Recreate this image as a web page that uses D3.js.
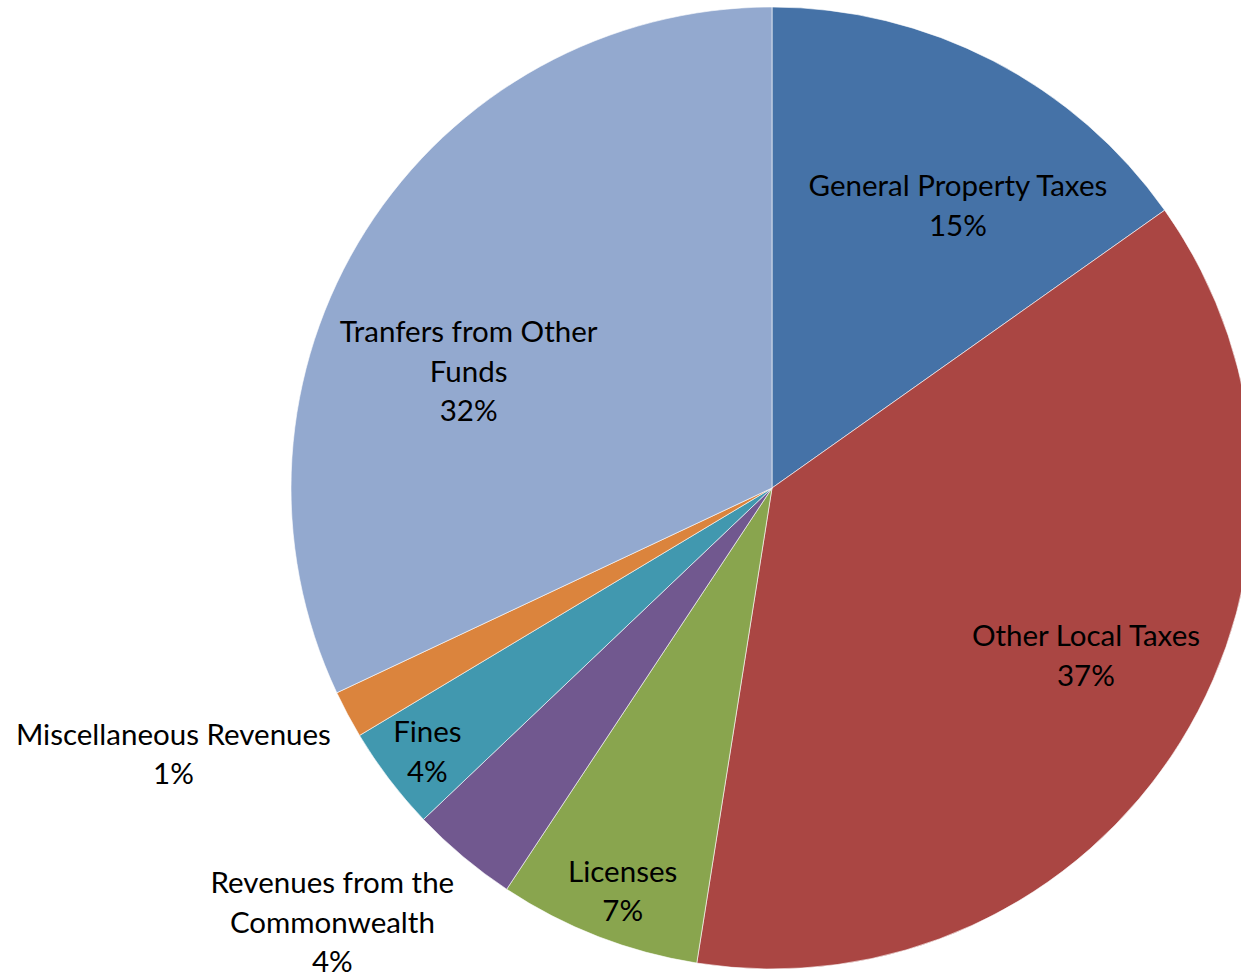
<!DOCTYPE html>
<html>
<head>
<meta charset="utf-8">
<script src="https://cdn.jsdelivr.net/npm/d3@7"></script>
<style>
  html, body { margin: 0; padding: 0; background: #ffffff; }
  svg { display: block; }
  text { font-family: "Lato", "Open Sans", sans-serif; fill: #000; }
</style>
</head>
<body>
<svg id="chart" width="1241" height="977"></svg>
<script>
// Data (percent shares)
const categories = [
  "General Property Taxes",
  "Other Local Taxes",
  "Licenses",
  "Revenues from the Commonwealth",
  "Fines",
  "Miscellaneous Revenues",
  "Tranfers from Other Funds"
];
const values = [15.2, 37.3, 6.8, 3.6, 3.5, 1.6, 32.0];
const percentLabels = ["15%", "37%", "7%", "4%", "4%", "1%", "32%"];
const labelLines = [
  ["General Property Taxes"],
  ["Other Local Taxes"],
  ["Licenses"],
  ["Revenues from the", "Commonwealth"],
  ["Fines"],
  ["Miscellaneous Revenues"],
  ["Tranfers from Other", "Funds"]
];
const colors = ["#4572A7", "#AA4643", "#89A54E", "#71588F", "#4198AF", "#DB843D", "#93A9CF"];

// Layout
const W = 1241, H = 977;
const cx = 772, cy = 488, R = 481;
// label placement: radius from center and angle shift (radians) relative to slice mid-angle
const labelRadius = [338, 356, 430, 618, 434, 655, 325];
const labelAngleShift = [0.105, -0.065, -0.016, 0.094, -0.003, 0.072, -0.199];
const lineH = 39.5;

const svg = d3.select("#chart");
const g = svg.append("g").attr("transform", `translate(${cx},${cy})`);

const pie = d3.pie().sort(null).value(d => d)(values);
const arc = d3.arc().innerRadius(0).outerRadius(R);

g.selectAll("path.slice")
  .data(pie)
  .join("path")
  .attr("class", "slice")
  .attr("d", arc)
  .attr("fill", (d, i) => colors[i])
  .attr("stroke", "#ffffff")
  .attr("stroke-width", 0.6);

pie.forEach((d, i) => {
  const mid = (d.startAngle + d.endAngle) / 2 + labelAngleShift[i];
  const r = labelRadius[i];
  const x = r * Math.sin(mid);
  const y = -r * Math.cos(mid);
  const lines = labelLines[i].concat([percentLabels[i]]);
  const n = lines.length;
  const t = g.append("text")
    .attr("text-anchor", "middle")
    .attr("font-size", 29.5)
    .attr("x", x)
    .attr("y", y);
  lines.forEach((ln, k) => {
    t.append("tspan")
      .attr("x", x)
      .attr("y", y + (k - (n - 1) / 2) * lineH)
      .attr("dy", "0.35em")
      .text(ln);
  });
});
</script>
</body>
</html>
